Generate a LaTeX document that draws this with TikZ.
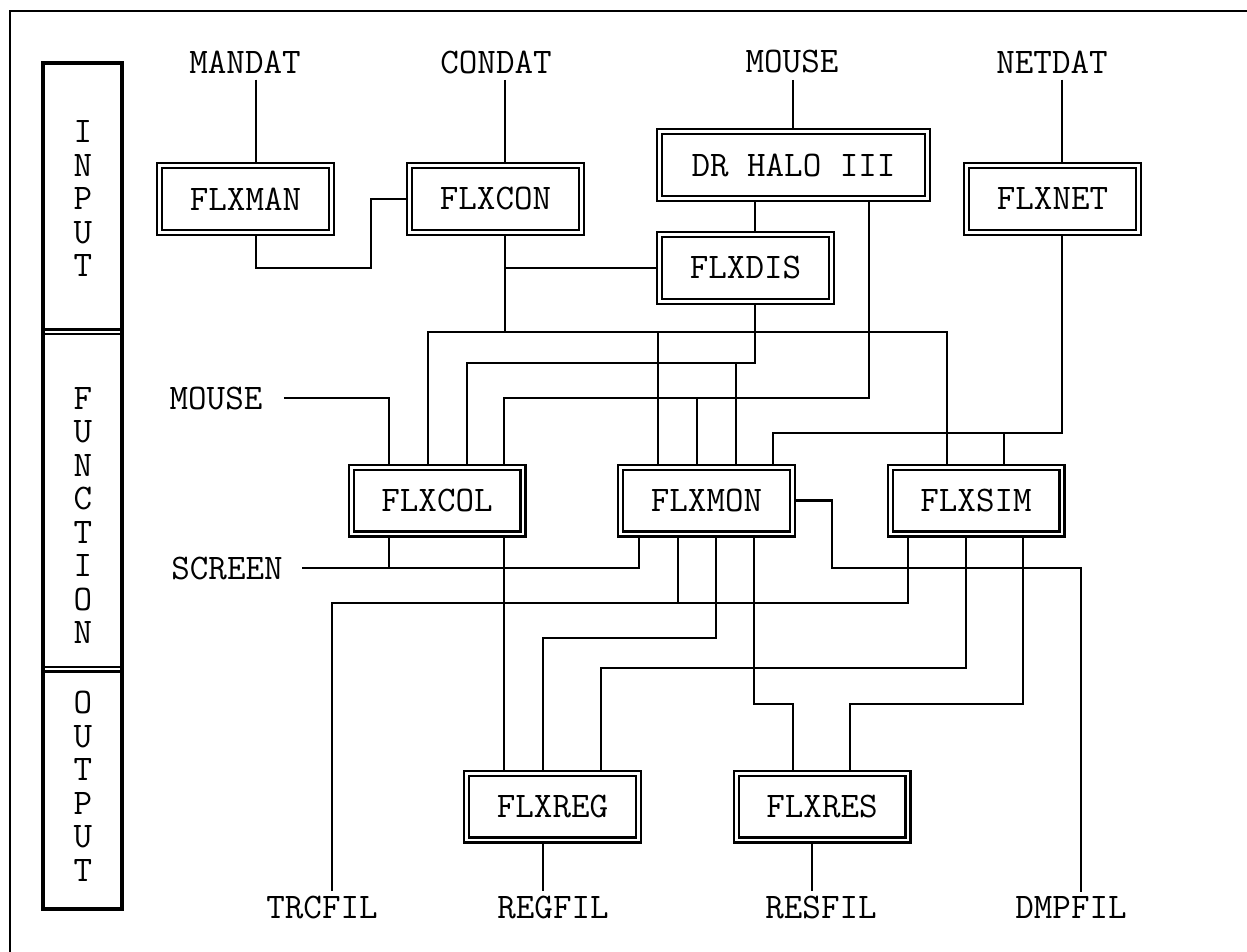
\documentclass[tikz,border=0pt]{standalone}
\usepackage{fontspec}
\usetikzlibrary{calc}
\begin{document}
\begin{tikzpicture}[x=0.5pt, y=-0.5pt,
    prog/.style={draw, double, line width=1.1pt, double distance=1.4pt,
      minimum width=85.9pt, minimum height=33.4pt, inner sep=0pt, outer sep=1.8pt,
      font=\ttfamily\fontsize{18}{20}\selectfont},
    file/.style={inner sep=2pt, font=\ttfamily\fontsize{18}{20}\selectfont},
    side/.style={align=center, inner sep=0pt, font=\ttfamily\fontsize{18}{16.75}\selectfont},
    link/.style={line width=1.4pt}]
  \useasboundingbox (0,0) rectangle (1247,952);
  % frame and side bar
  \draw[line width=1.3pt] (10,952) -- (10,11) -- (1247,11);
  \draw[line width=1.6pt] (43,63) rectangle (122,909);
  \draw[line width=1.1pt] (43,329.5) -- (122,329.5) (43,334) -- (122,334);
  \draw[line width=1.1pt] (43,667) -- (122,667) (43,671.5) -- (122,671.5);
  \node[side] (input) at (83,199) {I\\N\\P\\U\\T};
  \node[side] (function) at (83,515.5) {F\\U\\N\\C\\T\\I\\O\\N};
  \node[side] (output) at (83,786.5) {O\\U\\T\\P\\U\\T};

  % programs
  \node[prog] (man) at (245.5,199) {FLXMAN};
  \node[prog] (con) at (495.5,199) {FLXCON};
  \node[prog, minimum width=133.9pt] (halo) at (793.5,165) {DR HALO III};
  \node[prog] (net) at (1052.5,199) {FLXNET};
  \node[prog] (dis) at (745.5,268) {FLXDIS};
  \node[prog] (col) at (437,500.5) {FLXCOL};
  \node[prog] (mon) at (706.5,500.5) {FLXMON};
  \node[prog] (sim) at (976,500.5) {FLXSIM};
  \node[prog] (reg) at (552.5,806.5) {FLXREG};
  \node[prog] (res) at (822,806.5) {FLXRES};

  % files and devices
  \node[file] (mandat) at (245,62) {MANDAT};
  \node[file] (condat) at (496,62) {CONDAT};
  \node[file] (mouse) at (792,62) {MOUSE};
  \node[file] (netdat) at (1052,62) {NETDAT};
  \node[file] (mousein) at (216,398) {MOUSE};
  \node[file] (screen) at (227,568) {SCREEN};
  \node[file] (trcfil) at (322,907) {TRCFIL};
  \node[file] (regfil) at (553,907) {REGFIL};
  \node[file] (resfil) at (821,907) {RESFIL};
  \node[file] (dmpfil) at (1071,907) {DMPFIL};

  % inputs
  \draw[link] ($(mandat.south)+(11,2)$) -- ($(man.north)+(10.5,0)$);
  \draw[link] ($(condat.south)+(9,2)$) -- ($(con.north)+(9.5,0)$);
  \draw[link] ($(mouse.south)+(1,2)$) -- ($(halo.north)+(-0.5,0)$);
  \draw[link] ($(netdat.south)+(10,2)$) -- ($(net.north)+(9.5,0)$);

  % upper wiring
  \draw[link] ($(man.south)+(10.5,0)$) |- (371,268) |- (con.west);
  \draw[link] ($(con.south)+(9.5,0)$) -- (505,332);
  \draw[link] (505,268) -- (dis.west);
  \draw[link] ($(halo.south)+(-38.5,0)$) -- ($(dis.north)+(9.5,0)$);
  \draw[link] ($(dis.south)+(9.5,0)$) |- (600,363) -| ($(col.north)+(30,0)$);
  \draw[link] (736,363) -- ($(mon.north)+(29.5,0)$);
  \draw[link] ($(halo.south)+(75.5,0)$) |- (600,398) -| ($(col.north)+(67,0)$);
  \draw[link] (697,398) -- ($(mon.north)+(-9.5,0)$);
  \draw[link] ($(col.north)+(-9,0)$) |- (505,332) -| ($(sim.north)+(-29,0)$);
  \draw[link] (658,332) -- ($(mon.north)+(-48.5,0)$);
  \draw[link] ($(net.south)+(9.5,0)$) |- (900,433) -| ($(mon.north)+(66.5,0)$);
  \draw[link] (1004,433) -- ($(sim.north)+(28,0)$);
  \draw[link] ($(mousein.east)+(17,0)$) -| ($(col.north)+(-48,0)$);

  % lower wiring
  \draw[link] ($(screen.east)+(15,0)$) -| ($(mon.south)+(-67.5,0)$);
  \draw[link] ($(col.south)+(-48,0)$) -- (389,568);
  \draw[link] ($(col.south)+(67,0)$) -- ($(reg.north)+(-48.5,0)$);
  \draw[link] ($(trcfil.north)+(10,0)$) |- (600,603) -| ($(sim.south)+(-68,0)$);
  \draw[link] ($(mon.south)+(-28.5,0)$) -- (678,603);
  \draw[link] ($(mon.south)+(9.5,0)$) |- (600,638) -| ($(reg.north)+(-9.5,0)$);
  \draw[link] ($(sim.south)+(-10,0)$) |- (800,668) -| ($(reg.north)+(48.5,0)$);
  \draw[link] ($(mon.south)+(47.5,0)$) |- (780,704) -| ($(res.north)+(-29,0)$);
  \draw[link] ($(sim.south)+(47,0)$) |- (900,704) -| ($(res.north)+(28,0)$);
  \draw[link] (mon.east) -| (832,568) -| ($(dmpfil.north)+(10,0)$);
  \draw[link] ($(reg.south)+(-9.5,0)$) -- ($(regfil.north)+(-10,0)$);
  \draw[link] ($(res.south)+(-10,0)$) -- ($(resfil.north)+(-9,0)$);
\end{tikzpicture}
\end{document}
